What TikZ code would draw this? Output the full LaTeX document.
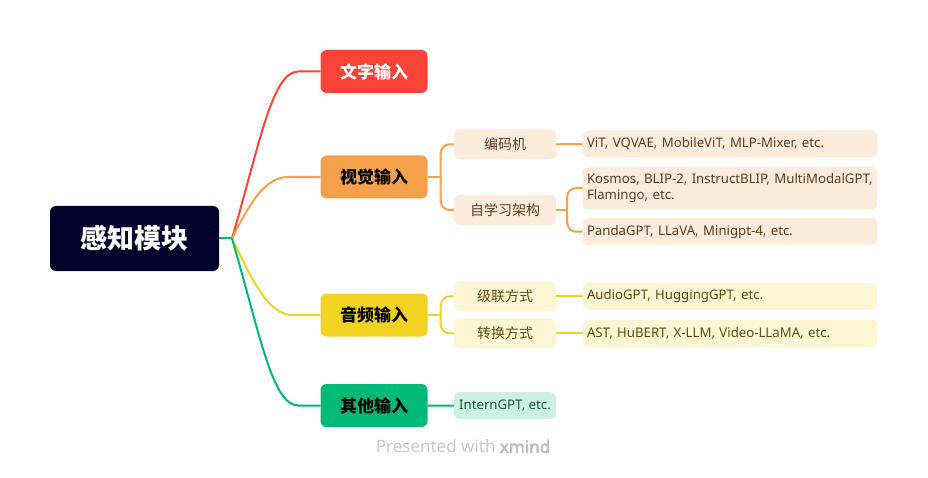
\documentclass[tikz,border=0pt]{standalone}
\usepackage{fontspec}
\setmainfont{Noto Sans}
\newfontfamily\cjk{Noto Sans CJK SC}
\newfontfamily\markbold{Noto Sans}[FakeBold=2.5]
\usepackage{tikz}
\hyphenpenalty=10000

\definecolor{rootc}{HTML}{00002A}
\definecolor{redc}{HTML}{FA4339}
\definecolor{orangec}{HTML}{F6A04B}
\definecolor{yellowc}{HTML}{F2D323}
\definecolor{greenc}{HTML}{00B976}
\definecolor{orangel}{HTML}{FDEBDB}
\definecolor{yellowl}{HTML}{FDF6D3}
\definecolor{greenl}{HTML}{CDF1E1}
\definecolor{orangetx}{HTML}{5C3D24}
\definecolor{yellowtx}{HTML}{5E4B12}
\definecolor{greentx}{HTML}{17573A}
\definecolor{markgray}{HTML}{C8C8C8}
\definecolor{markdark}{HTML}{BBBBBB}

\begin{document}
\begin{tikzpicture}[x=1pt, y=-1pt,
    box/.style={rounded corners=6pt, inner sep=0pt, align=center},
    mainbox/.style={box, minimum width=107pt, minimum height=43pt,
        font=\cjk\bfseries\fontsize{17}{20}\selectfont},
    subbox/.style={box, minimum width=102pt, minimum height=30pt,
        font=\cjk\fontsize{14}{16}\selectfont},
    leafbox/.style={rounded corners=6pt, inner xsep=4.25pt, inner ysep=0pt,
        text width=286pt, align=left, minimum height=27pt,
        font=\fontsize{13.2}{15.5}\selectfont},
    branch/.style={line width=2pt}]
    \fill[white] (0,0) rectangle (928,478);
    \useasboundingbox (0,0) rectangle (928,478);

    % root and first level
    \node[box, fill=rootc, text=white, minimum width=169pt, minimum height=65pt,
        font=\cjk\bfseries\fontsize{27}{30}\selectfont] (root) at (134.5,238.5) {感知模块};
    \coordinate (hub) at (232,238.5);
    \node[mainbox, fill=redc, text=white] (text) at (374,71.5) {文字输入};
    \node[mainbox, fill=orangec] (vision) at (374,177) {视觉输入};
    \node[mainbox, fill=yellowc] (audio) at (374,315) {音频输入};
    \node[mainbox, fill=greenc] (other) at (374,405.5) {其他输入};

    % second level
    \node[subbox, fill=orangel, text=orangetx] (encoder) at (505,144.3) {编码机};
    \node[subbox, fill=orangel, text=orangetx] (selfsup) at (505,210) {自学习架构};
    \node[subbox, fill=yellowl, text=yellowtx] (cascade) at (505,296.3) {级联方式};
    \node[subbox, fill=yellowl, text=yellowtx] (convert) at (505,333.3) {转换方式};
    \node[subbox, fill=greenl, text=greentx, minimum height=27pt,
        font=\fontsize{13.2}{15}\selectfont] (intern) at (505,405.7) {InternGPT, etc.};

    % leaves
    \node[leafbox, fill=orangel, text=orangetx] (vit) at (730,144)
        {ViT, VQVAE, MobileViT, MLP-Mixer, etc.};
    \node[leafbox, fill=orangel, text=orangetx, minimum height=42.5pt] (kosmos) at (730,188)
        {Kosmos, BLIP-2, InstructBLIP, MultiModalGPT,\\Flamingo, etc.};
    \node[leafbox, fill=orangel, text=orangetx] (panda) at (730,231.7)
        {PandaGPT, LLaVA, Minigpt-4, etc.};
    \node[leafbox, fill=yellowl, text=yellowtx] (audiogpt) at (730,296.3)
        {AudioGPT, HuggingGPT, etc.};
    \node[leafbox, fill=yellowl, text=yellowtx] (ast) at (730,333.3)
        {AST, HuBERT, X-LLM, Video-LLaMA, etc.};

    % curved branches
    \draw[branch, redc] (hub) .. controls +(28,-96) and +(-26,0)
        .. ([xshift=-22pt]text.west) -- (text.west);
    \draw[branch, orangec] (hub) .. controls +(18,-36) and +(-23,0)
        .. ([xshift=-32pt]vision.west) -- (vision.west);
    \draw[branch, yellowc] (hub) .. controls +(22,45) and +(-25,0)
        .. ([xshift=-27pt]audio.west) -- (audio.west);
    \draw[branch, greenc] (hub) .. controls +(28,96) and +(-26,0)
        .. ([xshift=-22pt]other.west) -- (other.west);
    \draw[branch, greenc] (root.east) -- (hub);

    % brackets
    \coordinate (visfork) at ([xshift=13pt]vision.east);
    \draw[branch, orangec] (vision.east) -- (visfork);
    \draw[branch, orangec, rounded corners=9pt]
        (encoder.west) -| (visfork) |- (selfsup.west);
    \coordinate (selffork) at ([xshift=11pt]selfsup.east);
    \draw[branch, orangec] (selfsup.east) -- (selffork);
    \draw[branch, orangec, rounded corners=9pt]
        (kosmos.west) -| (selffork) |- (panda.west);
    \draw[branch, orangec] (encoder.east) -- (vit.west);
    \coordinate (audfork) at ([xshift=13pt]audio.east);
    \draw[branch, yellowc] (audio.east) -- (audfork);
    \draw[branch, yellowc, rounded corners=9pt]
        (cascade.west) -| (audfork) |- (convert.west);
    \draw[branch, yellowc] (cascade.east) -- (audiogpt.west);
    \draw[branch, yellowc] (convert.east) -- (ast.west);
    \draw[branch, greenc] (other.east) -- (intern.west);

    \node[text=markgray, font=\fontsize{17}{20}\selectfont] (mark) at (463,446.5)
        {Presented with {\markbold\color{markdark}xmind}};
\end{tikzpicture}
\end{document}
